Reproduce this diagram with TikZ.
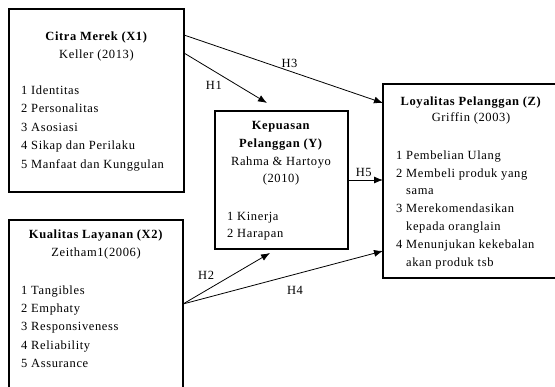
\documentclass[tikz,border=0pt]{standalone}
\usepackage{fontspec}
\setmainfont{Liberation Serif}[LetterSpace=5]
\usetikzlibrary{arrows.meta,positioning,calc}
\tikzstyle{varbox}=[draw, line width=2.8pt, inner sep=0pt, outer sep=0pt]
\tikzstyle{vartitle}=[anchor=north, align=center, inner sep=0pt]
\tikzstyle{varlist}=[anchor=north west, align=left, inner sep=0pt]
\tikzstyle{hyp}=[-{Latex[length=9pt,width=7pt]}, line width=0.8pt]

\begin{document}
\begin{tikzpicture}[x=1pt, y=-1pt, every node/.style={font=\fontsize{12.5}{18}\selectfont}]
  \useasboundingbox (0,0) rectangle (555,387);
  \clip (0,0) rectangle (555,387);

  % variable boxes
  \node[varbox, minimum width=175, minimum height=183] (x1) at (96.5,100.5) {};
  \node[varbox, minimum width=174, minimum height=180] (x2) at (96,310) {};
  \node[varbox, minimum width=133, minimum height=138] (yb) at (281.5,180) {};
  \node[varbox, minimum width=182, minimum height=194] (zb) at (474,181) {};

  % Citra Merek
  \node[vartitle] (x1t) at (96.5,31.5) {\textbf{Citra Merek (X1)}\\Keller (2013)};
  \node[varlist, font=\fontsize{12.5}{18.5}\selectfont] (x1l) at (21,85.5)
    {1 Identitas\\2 Personalitas\\3 Asosiasi\\4 Sikap dan Perilaku\\5 Manfaat dan Kunggulan};

  % Kualitas Layanan
  \node[vartitle] (x2t) at (96,229.5) {\textbf{Kualitas Layanan (X2)}\\Zeitham1(2006)};
  \node[varlist, font=\fontsize{12.5}{18.3}\selectfont] (x2l) at (21,285.5)
    {1 Tangibles\\2 Emphaty\\3 Responsiveness\\4 Reliability\\5 Assurance};

  % Kepuasan Pelanggan
  \node[vartitle, font=\fontsize{12.5}{17.7}\selectfont] (yt) at (281,121.5)
    {\textbf{Kepuasan}\\\textbf{Pelanggan (Y)}\\Rahma \& Hartoyo\\(2010)};
  \node[varlist, font=\fontsize{12.5}{17}\selectfont] (yl) at (227,212.5) {1 Kinerja\\2 Harapan};

  % Loyalitas Pelanggan
  \node[vartitle, font=\fontsize{12.5}{16.5}\selectfont] (zt) at (471,96.5)
    {\textbf{Loyalitas Pelanggan (Z)}\\Griffin (2003)};
  \node[varlist, font=\fontsize{12.5}{17.8}\selectfont] (zl) at (396,150.5)
    {1 Pembelian Ulang\\2 Membeli produk yang\\\hspace*{10pt}sama\\3 Merekomendasikan\\\hspace*{10pt}kepada oranglain\\4 Menunjukan kekebalan\\\hspace*{10pt}akan produk tsb};

  % hypotheses
  \coordinate (h1tip) at (267,103);
  \coordinate (h2tip) at (270,253);

  \draw[hyp] ([yshift=-26pt]x1.north east) -- node[pos=0.53, above] {H3} ([yshift=-19pt]zb.north west);
  \draw[hyp] ([yshift=-44pt]x1.north east) -- node[pos=0.5, below left] {H1} (h1tip);
  \draw[hyp] ([yshift=-84pt]x2.north east) -- node[pos=0.4, above left] {H2} (h2tip);
  \draw[hyp] ([yshift=-84pt]x2.north east) -- node[pos=0.56, below=8pt] {H4} ([yshift=-167pt]zb.north west);
  \draw[hyp] (yb.east) -- node[pos=0.45, above] {H5} (yb.east -| zb.west);
\end{tikzpicture}
\end{document}
